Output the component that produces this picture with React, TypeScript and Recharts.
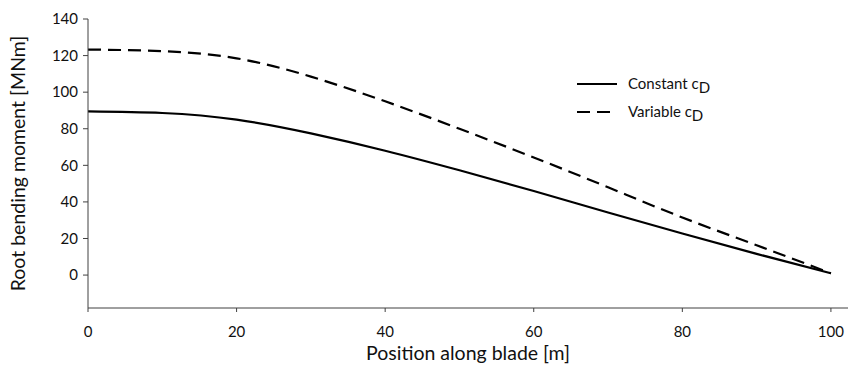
import React from "react";
import { LineChart, Line, XAxis, YAxis } from "recharts";

// Position along the blade [m]
const positions = [0, 10, 20, 30, 40, 50, 60, 70, 80, 90, 100];
// Root bending moment [MNm] with a constant drag coefficient
const constantCd = [89.5, 88.6, 85, 77.5, 68, 57.3, 46, 34.2, 22.7, 11.6, 1];
// Root bending moment [MNm] with a variable drag coefficient
const variableCd = [123.3, 122.4, 118.5, 108.5, 95, 80, 64.3, 48, 31.5, 16.3, 1];

const xTicks = [0, 20, 40, 60, 80, 100];
const yTicks = [0, 20, 40, 60, 80, 100, 120, 140];

const data = positions.map((p, i) => ({
  pos: p,
  constant: constantCd[i],
  variable: variableCd[i],
}));

const FONT = "Lato, 'Open Sans', sans-serif";
const AXIS = "#404040";
const TEXT = "#111";

const legendItems = [
  { label: "Constant c", dash: undefined as string | undefined },
  { label: "Variable c", dash: "13 7" },
];

const LegendBox = () => (
  <svg width={160} height={60} style={{ position: "absolute", left: 577, top: 74, overflow: "visible" }}>
    {legendItems.map((it, i) => (
      <g key={i} transform={`translate(0, ${i * 28 + 10})`}>
        <line x1={0} x2={40} y1={0} y2={0} stroke="#000" strokeWidth={2.2} strokeDasharray={it.dash} />
        <text x={51} y={5} fontFamily={FONT} fontSize={15} fill={TEXT}>
          {it.label}
          <tspan fontSize={15} dy={4}>D</tspan>
        </text>
      </g>
    ))}
  </svg>
);

export default function App() {
  return (
    <div style={{ position: "absolute", left: 0, top: 0, width: 861, height: 367, background: "#fff" }}>
      <LineChart
        width={861}
        height={367}
        data={data}
        margin={{ top: 19, right: 13, bottom: 29, left: 0 }}
      >
        <XAxis
          dataKey="pos"
          type="number"
          domain={[0, 102.3]}
          ticks={xTicks}
          allowDataOverflow
          stroke={AXIS}
          tickSize={4}
          tickMargin={14}
          height={30}
          tick={{ fill: TEXT, fontSize: 15, fontFamily: FONT }}
          label={{
            value: "Position along blade [m]",
            position: "insideBottom",
            offset: -22,
            style: { fill: TEXT, fontSize: 19.5, fontFamily: FONT },
          }}
        />
        <YAxis
          type="number"
          domain={[-18, 140]}
          ticks={yTicks}
          allowDataOverflow
          width={88}
          stroke={AXIS}
          tickSize={5}
          tickMargin={5}
          tick={{ fill: TEXT, fontSize: 15, fontFamily: FONT }}
          label={{
            value: "Root bending moment [MNm]",
            angle: -90,
            position: "insideLeft",
            offset: 18,
            style: { textAnchor: "middle", fill: TEXT, fontSize: 19.5, fontFamily: FONT },
          }}
        />
        <Line
          dataKey="constant"
          type="natural"
          stroke="#000"
          strokeWidth={2.2}
          dot={false}
          isAnimationActive={false}
        />
        <Line
          dataKey="variable"
          type="natural"
          stroke="#000"
          strokeWidth={2.2}
          strokeDasharray="13 7"
          dot={false}
          isAnimationActive={false}
        />
      </LineChart>
      <LegendBox />
    </div>
  );
}
